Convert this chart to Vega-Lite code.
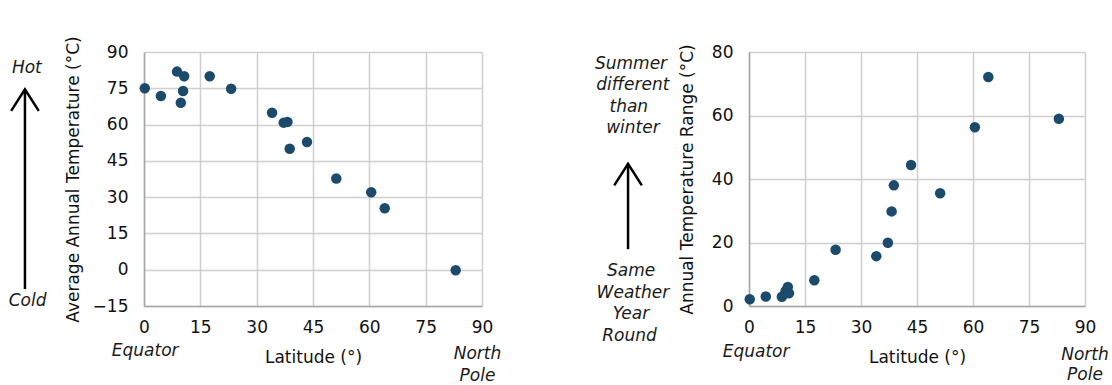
{
  "$schema": "https://vega.github.io/schema/vega-lite/v6.json",
  "padding": {"left": 6, "top": 35, "right": 5, "bottom": 0},
  "background": "white",
  "config": {
    "font": "DejaVu Sans",
    "view": {"stroke": null},
    "axis": {
      "labelFont": "DejaVu Sans",
      "labelFontSize": 17,
      "labelColor": "#111111",
      "labelOverlap": false,
      "labelFlush": false,
      "labelBound": false,
      "titleFont": "DejaVu Sans",
      "titleFontSize": 17,
      "titleFontWeight": "normal",
      "titleColor": "#111111",
      "ticks": false,
      "gridColor": "#cfcfcf",
      "gridWidth": 1.5,
      "domainColor": "#a6a6a6",
      "domainWidth": 1.5
    }
  },
  "datasets": {
    "obs": [
      {"lat": 0.2, "temp": 75.0, "range": 2.1},
      {"lat": 4.5, "temp": 71.8, "range": 3.0},
      {"lat": 8.8, "temp": 81.9, "range": 2.9},
      {"lat": 9.8, "temp": 69.0, "range": 4.7},
      {"lat": 10.4, "temp": 73.9, "range": 6.0},
      {"lat": 10.7, "temp": 80.0, "range": 4.0},
      {"lat": 17.5, "temp": 80.0, "range": 8.1},
      {"lat": 23.2, "temp": 74.8, "range": 17.7},
      {"lat": 34.1, "temp": 64.9, "range": 15.7},
      {"lat": 37.2, "temp": 60.8, "range": 19.9},
      {"lat": 38.2, "temp": 61.1, "range": 29.8},
      {"lat": 38.8, "temp": 50.0, "range": 38.0},
      {"lat": 43.4, "temp": 52.8, "range": 44.4},
      {"lat": 51.2, "temp": 37.7, "range": 35.5},
      {"lat": 60.5, "temp": 32.0, "range": 56.3},
      {"lat": 64.1, "temp": 25.4, "range": 72.1},
      {"lat": 83.0, "temp": -0.2, "range": 59.0}
    ],
    "leftNotes": [
      {"x": -31.2, "y": 83.5, "label": "Hot"},
      {"x": -31.0, "y": -12.9, "label": "Cold"},
      {"x": 0.3, "y": -33.8, "label": "Equator"},
      {"x": 88.8, "y": -34.9, "label": "North"},
      {"x": 88.8, "y": -43.8, "label": "Pole"}
    ],
    "leftArrow": [{"x": -31.7, "y1": -8.0, "y2": 74.6}],
    "rightNotes": [
      {"x": -31.6, "y": 76.1, "label": "Summer"},
      {"x": -31.1, "y": 69.5, "label": "different"},
      {"x": -32.2, "y": 62.8, "label": "than"},
      {"x": -31.1, "y": 56.0, "label": "winter"},
      {"x": -31.6, "y": 11.0, "label": "Same"},
      {"x": -31.1, "y": 4.2, "label": "Weather"},
      {"x": -31.6, "y": -2.5, "label": "Year"},
      {"x": -32.0, "y": -9.4, "label": "Round"},
      {"x": 1.9, "y": -14.4, "label": "Equator"},
      {"x": 90.0, "y": -15.5, "label": "North"},
      {"x": 90.0, "y": -21.8, "label": "Pole"}
    ],
    "rightArrow": [{"x": -32.4, "y1": 17.9, "y2": 44.8}]
  },
  "spacing": 92,
  "hconcat": [
    {
      "width": 338,
      "height": 254,
      "layer": [
        {
          "data": {"name": "obs"},
          "mark": {"type": "point", "filled": true, "size": 110, "color": "#1b4a6b", "opacity": 1},
          "encoding": {
            "x": {"field": "lat", "type": "quantitative", "scale": {"domain": [0, 90], "nice": false, "zero": false},
              "axis": {"values": [0, 15, 30, 45, 60, 75, 90], "tickCount": 12, "title": "Latitude (°)", "labelPadding": 13, "titlePadding": 14}},
            "y": {"field": "temp", "type": "quantitative", "scale": {"domain": [-15, 90], "nice": false, "zero": false},
              "axis": {"values": [-15, 0, 15, 30, 45, 60, 75, 90], "tickCount": 12, "title": "Average Annual Temperature (°C)", "labelPadding": 16, "titlePadding": 10}}
          }
        },
        {
          "data": {"name": "leftNotes"},
          "mark": {"type": "text", "fontStyle": "italic", "fontSize": 17, "color": "#1a1a1a", "align": "center", "baseline": "middle", "clip": false},
          "encoding": {
            "x": {"field": "x", "type": "quantitative", "scale": {"domain": [0, 90], "nice": false, "zero": false}},
            "y": {"field": "y", "type": "quantitative", "scale": {"domain": [-15, 90], "nice": false, "zero": false}},
            "text": {"field": "label"}
          }
        },
        {
          "data": {"name": "leftArrow"},
          "mark": {"type": "rule", "strokeWidth": 2.5, "color": "#000000", "clip": false},
          "encoding": {
            "x": {"field": "x", "type": "quantitative", "scale": {"domain": [0, 90], "nice": false, "zero": false}},
            "y": {"field": "y1", "type": "quantitative", "scale": {"domain": [-15, 90], "nice": false, "zero": false}},
            "y2": {"field": "y2"}
          }
        },
        {
          "data": {"name": "leftArrow"},
          "mark": {"type": "point", "shape": "M-1,1.57L0,0L1,1.57", "size": 762, "filled": false, "stroke": "#000000", "strokeWidth": 2.5, "opacity": 1, "clip": false},
          "encoding": {
            "x": {"field": "x", "type": "quantitative", "scale": {"domain": [0, 90], "nice": false, "zero": false}},
            "y": {"field": "y2", "type": "quantitative", "scale": {"domain": [-15, 90], "nice": false, "zero": false}}
          }
        }
      ]
    },
    {
      "width": 336,
      "height": 254,
      "layer": [
        {
          "data": {"name": "obs"},
          "mark": {"type": "point", "filled": true, "size": 110, "color": "#1b4a6b", "opacity": 1},
          "encoding": {
            "x": {"field": "lat", "type": "quantitative", "scale": {"domain": [0, 90], "nice": false, "zero": false},
              "axis": {"values": [0, 15, 30, 45, 60, 75, 90], "tickCount": 12, "title": "Latitude (°)", "labelPadding": 13, "titlePadding": 14}},
            "y": {"field": "range", "type": "quantitative", "scale": {"domain": [0, 80], "nice": false, "zero": false},
              "axis": {"values": [0, 20, 40, 60, 80], "tickCount": 12, "title": "Annual Temperature Range (°C)", "labelPadding": 16, "titlePadding": 15}}
          }
        },
        {
          "data": {"name": "rightNotes"},
          "mark": {"type": "text", "fontStyle": "italic", "fontSize": 17, "color": "#1a1a1a", "align": "center", "baseline": "middle", "clip": false},
          "encoding": {
            "x": {"field": "x", "type": "quantitative", "scale": {"domain": [0, 90], "nice": false, "zero": false}},
            "y": {"field": "y", "type": "quantitative", "scale": {"domain": [0, 80], "nice": false, "zero": false}},
            "text": {"field": "label"}
          }
        },
        {
          "data": {"name": "rightArrow"},
          "mark": {"type": "rule", "strokeWidth": 2.5, "color": "#000000", "clip": false},
          "encoding": {
            "x": {"field": "x", "type": "quantitative", "scale": {"domain": [0, 90], "nice": false, "zero": false}},
            "y": {"field": "y1", "type": "quantitative", "scale": {"domain": [0, 80], "nice": false, "zero": false}},
            "y2": {"field": "y2"}
          }
        },
        {
          "data": {"name": "rightArrow"},
          "mark": {"type": "point", "shape": "M-1,1.57L0,0L1,1.57", "size": 762, "filled": false, "stroke": "#000000", "strokeWidth": 2.5, "opacity": 1, "clip": false},
          "encoding": {
            "x": {"field": "x", "type": "quantitative", "scale": {"domain": [0, 90], "nice": false, "zero": false}},
            "y": {"field": "y2", "type": "quantitative", "scale": {"domain": [0, 80], "nice": false, "zero": false}}
          }
        }
      ]
    }
  ]
}
